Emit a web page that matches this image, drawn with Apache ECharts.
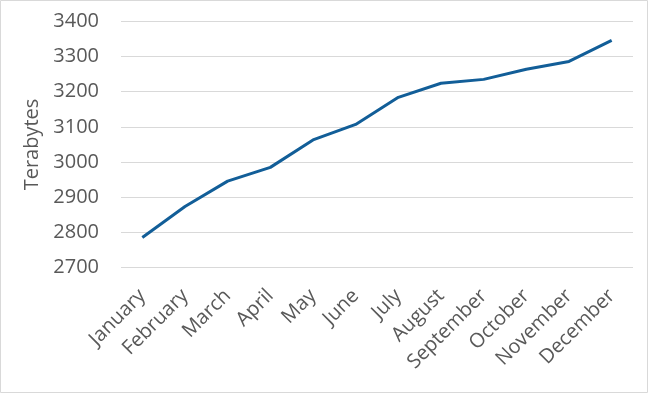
<!DOCTYPE html>
<html><head><meta charset="utf-8">
<script src="https://cdn.jsdelivr.net/npm/echarts@6/dist/echarts.min.js"></script>
<style>html,body{margin:0;padding:0;background:#fff}#c{width:649px;height:394px}</style>
</head><body><div id="c"></div>
<script>
var categories = ["January","February","March","April","May","June","July","August","September","October","November","December"];
var terabytes = [2786, 2874, 2946, 2985, 3063, 3107, 3184, 3224, 3235, 3264, 3286, 3346];
var yMin = 2700, yMax = 3400, yStep = 100;
var yTitle = "Terabytes";

var chart = echarts.init(document.getElementById('c'), null, {renderer:'canvas'});
var font = '"Open Sans", "Noto Sans", sans-serif';
chart.setOption({
  animation: false,
  graphic: [{type:'rect', shape:{x:0.5,y:0.5,width:647,height:392}, style:{fill:null, stroke:'#d9d9d9', lineWidth:1}, silent:true}],
  grid: {left:121, right:16, top:21.3, bottom:126.3},
  xAxis: {
    type:'category', data:categories, boundaryGap:true,
    axisLine:{show:false}, axisTick:{show:false},
    axisLabel:{rotate:45, color:'#595959', fontSize:20, fontFamily:font, margin:25, interval:0}
  },
  yAxis: {
    type:'value', min:yMin, max:yMax, interval:yStep,
    name:yTitle, nameLocation:'middle', nameGap:78, nameRotate:90,
    nameTextStyle:{color:'#595959', fontSize:20, fontFamily:font},
    axisLine:{show:false}, axisTick:{show:false},
    axisLabel:{color:'#595959', fontSize:20, fontFamily:font, margin:22, formatter:function(v){return String(v);}},
    splitLine:{lineStyle:{color:'#d9d9d9', width:1}}
  },
  series: [{type:'line', data:terabytes, symbol:'none', lineStyle:{color:'#125e98', width:3}, itemStyle:{color:'#125e98'}}]
});
</script></body></html>
